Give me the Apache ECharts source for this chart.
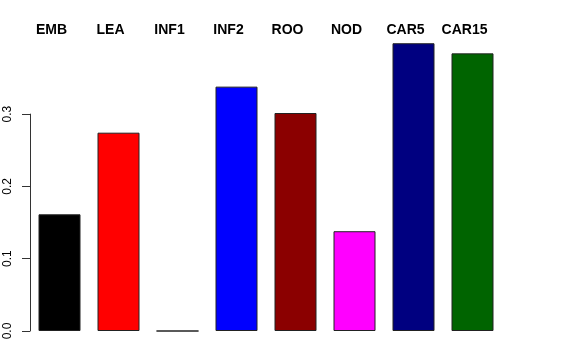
<!DOCTYPE html>
<html>
<head>
<meta charset="utf-8">
<script src="https://cdn.jsdelivr.net/npm/echarts@6/dist/echarts.min.js"></script>
<style>html,body{margin:0;padding:0;background:#fff;}#c{width:576px;height:360px;}</style>
</head>
<body>
<div id="c"></div>
<script>
var categories = ['EMB', 'LEA', 'INF1', 'INF2', 'ROO', 'NOD', 'CAR5', 'CAR15'];
var values = [0.1614, 0.2743, 0, 0.338, 0.3015, 0.138, 0.398, 0.384];
var colors = ['#000000', '#FF0000', '#00CD00', '#0000FF', '#8B0000', '#FF00FF', '#000080', '#006400'];
var yTickLabels = ['0.0', '0.1', '0.2', '0.3'];

var FONT = "'Liberation Sans', Arial, Helvetica, sans-serif";
var chart = echarts.init(document.getElementById('c'), null, {renderer: 'canvas'});
chart.setOption({
  backgroundColor: '#ffffff',
  animation: false,
  grid: [
    {left: 30, width: 472, top: 41.8, bottom: 29},
    {left: 30, width: 472, top: 114.1, bottom: 29},
    {left: 22, width: 472, top: 42, height: 1}
  ],
  xAxis: [
    {gridIndex: 0, type: 'category', data: categories, show: false},
    {gridIndex: 1, type: 'category', data: categories, show: false},
    {gridIndex: 2, type: 'category', data: categories, position: 'top',
      axisLine: {show: false}, axisTick: {show: false},
      axisLabel: {margin: 5, fontFamily: FONT, fontWeight: 'bold', fontSize: 14, color: '#000', interval: 0}}
  ],
  yAxis: [
    {gridIndex: 0, type: 'value', min: 0, max: 0.4, show: false},
    {gridIndex: 1, type: 'value', min: 0, max: 0.3, interval: 0.1,
      axisLine: {show: true, lineStyle: {color: '#333', width: 1}},
      axisTick: {show: true, length: 8, lineStyle: {color: '#333', width: 1}},
      splitLine: {show: false},
      axisLabel: {rotate: 90, margin: 16, fontFamily: FONT, fontSize: 12, color: '#000',
        formatter: function (v) { return yTickLabels[Math.round(v * 10)]; }}},
    {gridIndex: 2, type: 'value', show: false}
  ],
  series: [{
    type: 'bar',
    xAxisIndex: 0, yAxisIndex: 0,
    barWidth: 42,
    data: values.map(function (v, i) {
      return {value: v, itemStyle: {color: colors[i], borderColor: '#222', borderWidth: 1}};
    })
  }]
});
</script>
</body>
</html>
